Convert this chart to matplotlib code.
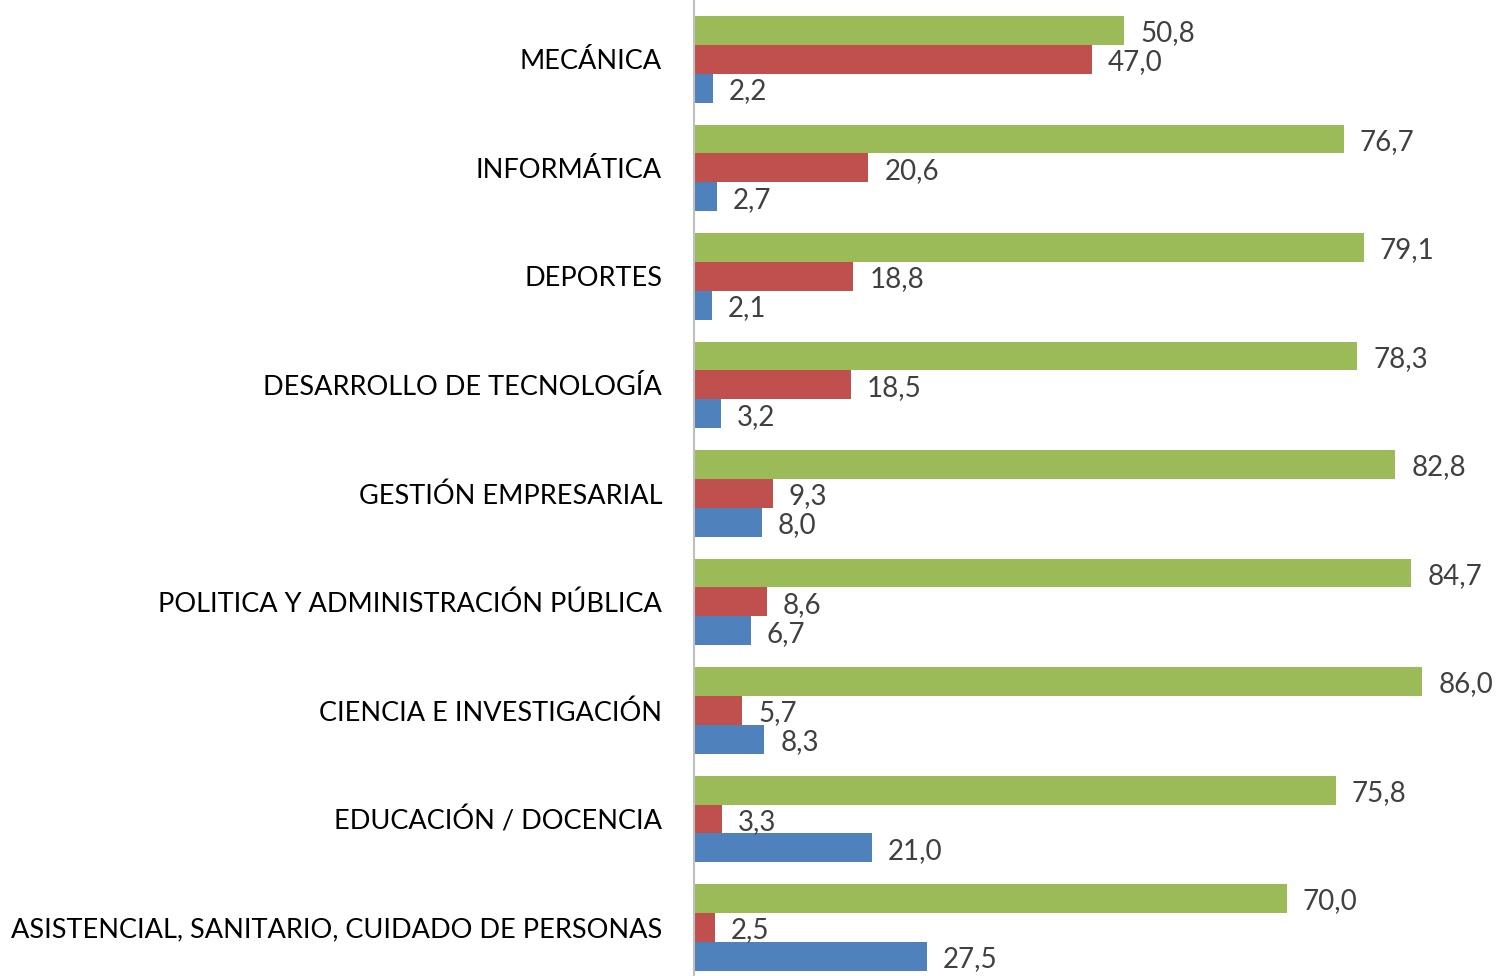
import matplotlib.pyplot as plt
import numpy as np

plt.rcParams['font.family'] = ['Lato', 'DejaVu Sans']

# categorias de arriba hacia abajo
categorias = ['MECÁNICA', 'INFORMÁTICA', 'DEPORTES', 'DESARROLLO DE TECNOLOGÍA',
              'GESTIÓN EMPRESARIAL', 'POLITICA Y ADMINISTRACIÓN PÚBLICA',
              'CIENCIA E INVESTIGACIÓN', 'EDUCACIÓN / DOCENCIA',
              'ASISTENCIAL, SANITARIO, CUIDADO DE PERSONAS']
serie_verde = [50.8, 76.7, 79.1, 78.3, 82.8, 84.7, 86.0, 75.8, 70.0]
serie_roja = [47.0, 20.6, 18.8, 18.5, 9.3, 8.6, 5.7, 3.3, 2.5]
serie_azul = [2.2, 2.7, 2.1, 3.2, 8.0, 6.7, 8.3, 21.0, 27.5]

fig = plt.figure(figsize=(15.02, 9.76), dpi=100)
ax = fig.add_axes([694 / 1502, 0, 1 - 694 / 1502, 1])

n = len(categorias)
y = np.arange(n)[::-1]
h = 0.267

series = [(serie_verde, '#9BBB59', h), (serie_roja, '#C0504D', 0), (serie_azul, '#4F81BD', -h)]
for vals, color, off in series:
    bars = ax.barh(y + off, vals, height=h, color=color)
    for b, v in zip(bars, vals):
        ax.annotate(f'{v:.1f}'.replace('.', ','), (b.get_width(), b.get_y() + b.get_height() / 2),
                    xytext=(11.5, -2), textcoords='offset points', va='center', ha='left',
                    fontsize=20, color='#404040')

ax.set_xlim(0, 95.4)
ax.set_ylim(-0.447, 8.548)
ax.set_yticks(y)
ax.set_yticklabels(categorias, fontsize=19.5, color='#000000')
ax.tick_params(axis='y', length=0, pad=23)
ax.set_xticks([])
for s in ['top', 'right', 'bottom']:
    ax.spines[s].set_visible(False)
ax.spines['left'].set_color('#BFBFBF')
ax.spines['left'].set_linewidth(1.5)

fig.savefig('out.png', dpi=100)
